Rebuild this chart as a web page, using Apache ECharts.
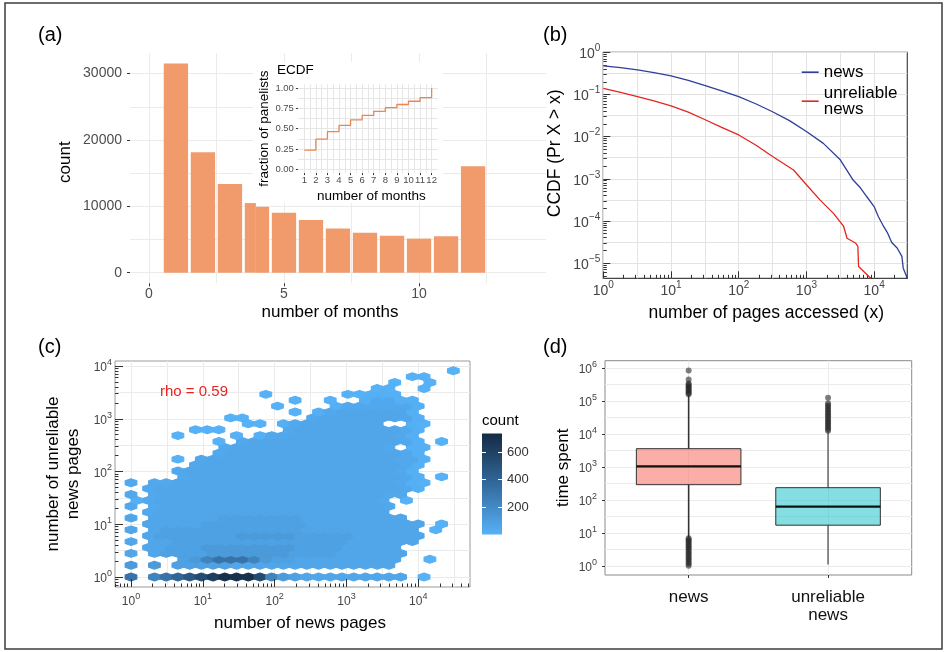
<!DOCTYPE html>
<html>
<head>
<meta charset="utf-8">
<script src="https://cdn.jsdelivr.net/npm/echarts@6/dist/echarts.min.js"></script>
<style>
html, body { margin: 0; padding: 0; background: #ffffff; }
#chart { width: 944px; height: 652px; }
</style>
</head>
<body>
<div id="chart"></div>
<script>
const FONT = '"Liberation Sans", Arial, Helvetica, sans-serif';

// ---------------- (a) histogram: number of months ----------------
const monthBinLo  = [0.55, 1.55, 2.55, 3.55, 3.96, 4.55, 5.55, 6.55, 7.55, 8.55, 9.55, 10.55, 11.55];
const monthBinHi  = [1.45, 2.45, 3.45, 3.96, 4.45, 5.45, 6.45, 7.45, 8.45, 9.45, 10.45, 11.45, 12.45];
const monthCounts = [31500, 18150, 13370, 10490, 9930, 9030, 7920, 6660, 6000, 5550, 5140, 5500, 16030];
const monthTicks  = [0, 5, 10];
const countTicks  = [0, 10000, 20000, 30000];

// ---------------- (a) inset ECDF ----------------
const ecdfMonths    = [1, 2, 3, 4, 5, 6, 7, 8, 9, 10, 11, 12];
const ecdfFractions = [0.235, 0.37, 0.465, 0.54, 0.61, 0.665, 0.715, 0.76, 0.80, 0.84, 0.885, 1.0];
const ecdfYTicks    = [0, 0.25, 0.5, 0.75, 1];

// ---------------- (b) CCDF of pages accessed ----------------
const newsPages  = [1, 1.8, 3.2, 5.6, 10, 18, 32, 56, 100, 178, 316, 562, 1000, 1778, 3162, 4898, 6310, 7762, 10000, 11482, 13804, 15849, 18197, 21878, 25704, 26915, 30903];
const newsCcdf   = [0.474, 0.4315, 0.3846, 0.3311, 0.2754, 0.2163, 0.1622, 0.1216, 0.0891, 0.0603, 0.0389, 0.0240, 0.01318, 0.00692, 0.00282, 0.000933, 0.000603, 0.000380, 0.000219, 0.000129, 7.41e-5, 5.13e-5, 3.09e-5, 2.29e-5, 1.45e-5, 7.59e-6, 4.37e-6];
const unrelPages = [1, 1.8, 3.2, 5.6, 10, 18, 32, 56, 100, 178, 316, 646, 1000, 1585, 2512, 3548, 3981, 5370, 5754, 5888, 8913];
const unrelCcdf  = [0.1403, 0.1122, 0.0891, 0.0700, 0.0537, 0.0380, 0.0251, 0.0166, 0.01096, 0.00631, 0.00339, 0.00162, 0.000724, 0.000316, 0.000151, 7.41e-5, 3.89e-5, 2.95e-5, 2.51e-5, 8.32e-6, 4.37e-6];
const ccdfSeriesNames = ['news', 'unreliable news'];

// ---------------- (c) hexbin: news pages vs unreliable pages ----------------
// hex lattice in log10 units (bin widths)
const hexStepX = 0.1632;
const hexStepY = 0.1117;
// one string per lattice row (bottom row first); '.' = empty bin, letters = count level
const hexLevelCodes  = 'abcdefghijklmn';
const hexLevelCounts = [3, 12, 45, 58, 85, 120, 165, 230, 320, 390, 460, 540, 620, 700];
const hexRows = [
  "i.hijklmnnnlhfeddddddddd.a...",
  "",
  "f.f.eeeeedddddddddddddd......",
  "....efhiiihfeeddddddddd..a...",
  "d.deeeefffffffeeeedddddd.....",
  ".ddeeeffffffffeeeeddddd......",
  "d.ddeeeeeeeeeeeeeeedddddd....",
  ".deeeeeeefffffeeeeedddddd....",
  "d.deeeeeeeeeeeedddddddddd.a..",
  ".dddddeeeeeeeeedddddddddd.a..",
  "d.ddddddeeeeeeeddddddddd.....",
  ".cdddddddddddddddddddd.......",
  "c.cdddddddddddddddddddc......",
  "bcdddddddddddddddddddc.a.....",
  "c.cdddddddddddddddddddcc.....",
  ".cdddddddddddddddddddddcb....",
  "c.ccdddddddddddddddddddcba...",
  "....cddddddddddddddddddcb.a..",
  "....cddddddddddddddddddcb....",
  ".....cdddddddddddddddddcb....",
  "....a.cddddddddddddddddccb...",
  ".......cdddddddddddddddcb....",
  "........cdddddddddddddc.bb...",
  ".......a.cdddddddddddddcb.a..",
  "....a....a.bccdddddddddcb....",
  ".....aaa.....cdddddddddcb....",
  "..........aa.bcddddddd..ba...",
  "........aa.....cddddddddb....",
  "..............a.bcddddddb....",
  "............a....bccccccb....",
  "..............a..a..bccbb....",
  "...........a......aabbb......",
  ".....................aa..a...",
  "......................a..a...",
  "........................aa...",
  "...........................a."
];
const countRange    = [1, 735];
const colorbarTicks = [200, 400, 600];
const rhoText       = 'rho = 0.59';

// ---------------- (d) boxplots of time spent ----------------
const boxCategories   = ['news', 'unreliable\nnews'];
const boxPositions    = [1, 2];
const boxLowWhisker   = [7.1, 1.1];
const boxQ1           = [288, 17];
const boxMedian       = [1030, 62];
const boxQ3           = [3560, 234];
const boxHighWhisker  = [148000, 12000];
const newsOutliers    = [1.0, 1.15, 1.3, 1.5, 1.7, 1.9, 2.2, 2.5, 2.8, 3.2, 3.6, 4.0, 4.5, 5.0, 5.6, 6.2, 6.8,
                         160000, 175000, 190000, 210000, 230000, 255000, 280000, 310000, 340000, 450000, 830000];
const unrelOutliers   = [12500, 14000, 16000, 18000, 20500, 23000, 26000, 30000, 34000, 39000, 44000, 50000,
                         57000, 65000, 74000, 85000, 125000];

// ---------------- helpers (styling / axis decoration) ----------------
const hexLowColor = '#56B1F7', hexMidColor = '#33699C', hexHighColor = '#132B43';
function hexToRgb(h) { return [parseInt(h.slice(1, 3), 16), parseInt(h.slice(3, 5), 16), parseInt(h.slice(5, 7), 16)]; }
function countColor(c) {
  let t = (c - countRange[0]) / (countRange[1] - countRange[0]);
  t = Math.max(0, Math.min(1, t));
  const a = hexToRgb(t < 0.5 ? hexLowColor : hexMidColor);
  const b = hexToRgb(t < 0.5 ? hexMidColor : hexHighColor);
  const u = t < 0.5 ? t / 0.5 : (t - 0.5) / 0.5;
  return 'rgb(' + a.map((v, k) => Math.round(v + (b[k] - v) * u)).join(',') + ')';
}
function seq(a, b, s) { const out = []; for (let v = a; v <= b + 1e-9; v += s) out.push(Math.round(v * 1000) / 1000); return out; }
function logMinor(lo, hi) {
  const out = [];
  for (let n = Math.floor(lo) - 1; n <= Math.ceil(hi); n++) {
    for (let k = 2; k <= 9; k++) { const v = n + Math.log10(k); if (v >= lo && v <= hi) out.push(v); }
  }
  return out;
}
function supFmt(v) { const e = Math.round(v); return '{b|10}{s|' + (e < 0 ? '\u2212' + (-e) : e) + '}'; }
function supRich(big, small, color) {
  return {
    b: { fontSize: big, color: color, fontFamily: FONT, padding: [Math.round(big * 0.3), 0, 0, 0] },
    s: { fontSize: small, color: color, fontFamily: FONT, verticalAlign: 'top' }
  };
}
function hiddenAxis(grid, type, min, max) {
  const a = { gridIndex: grid, type: type, min: min, max: max, show: false };
  if (type === 'log') a.logBase = 10;
  return a;
}
function lineAxis(grid, position, min, max, values, color, z) {
  return { gridIndex: grid, type: 'value', position: position, min: min, max: max, z: z || 0,
    axisLine: { show: false, onZero: false },
    axisTick: { show: false, customValues: values },
    axisLabel: { show: false },
    splitLine: { show: true, lineStyle: { color: color, width: 1 } } };
}
function tickAxis(grid, position, min, max, values, length, inside, color, z) {
  return { gridIndex: grid, type: 'value', position: position, min: min, max: max, z: z || 0,
    axisLine: { show: false, onZero: false },
    axisTick: { show: true, inside: inside, length: length, customValues: values, lineStyle: { color: color, width: 1 } },
    axisLabel: { show: false },
    splitLine: { show: false } };
}
function withLabels(axis, values, label) {
  axis.axisLabel = Object.assign({ show: true, customValues: values, fontFamily: FONT }, label);
  return axis;
}
function withName(axis, name, gap, style, rotate) {
  axis.name = name; axis.nameLocation = 'middle'; axis.nameGap = gap;
  if (rotate != null) axis.nameRotate = rotate;
  axis.nameTextStyle = Object.assign({ fontFamily: FONT, color: '#000' }, style);
  return axis;
}
function titleAt(text, left, top, size, color) {
  return { text: text, left: left, top: top, padding: 0,
    textStyle: { fontSize: size, fontWeight: 'normal', color: color || '#000', fontFamily: FONT } };
}

// ---------------- derived series data ----------------
const histData = monthBinLo.map((lo, i) => [lo, monthBinHi[i], monthCounts[i]]);
const ecdfData = ecdfMonths.map((m, i) => [m, ecdfFractions[i]]);
const newsData = newsPages.map((x, i) => [x, newsCcdf[i]]);
const unrelData = unrelPages.map((x, i) => [x, unrelCcdf[i]]);
const hexData = [];
hexRows.forEach((row, j) => {
  for (let i = 0; i < row.length; i++) {
    const lvl = hexLevelCodes.indexOf(row[i]);
    if (lvl < 0) continue;
    const lx = (i + (j % 2 ? 0.5 : 0)) * hexStepX;
    const ly = j * hexStepY;
    hexData.push([Math.pow(10, lx), Math.pow(10, ly), hexLevelCounts[lvl]]);
  }
});
const boxData = boxPositions.map((p, i) => [p, boxLowWhisker[i], boxQ1[i], boxMedian[i], boxQ3[i], boxHighWhisker[i]]);
const outlierData = newsOutliers.map(v => [boxPositions[0], v]).concat(unrelOutliers.map(v => [boxPositions[1], v]));

// ---------------- axis ranges ----------------
const aX = [-0.7, 14.7], aY = [-1600, 33100];
const iX = [0.45, 12.55], iY = [-0.05, 1.05];
const bX = [0, 4.49], bY = [-5.36, 0];
const cX = [-0.223, 4.72], cY = [-0.19, 4.095];
const dX = [0.4, 2.6], dY = [-0.28, 6.22];

const xAxes = [];
const yAxes = [];
// grid 0 : panel (a)
xAxes.push(withName(withLabels(tickAxis(0, 'bottom', aX[0], aX[1], monthTicks, 3, false, '#333'), monthTicks,
  { margin: 4, fontSize: 14, color: '#4d4d4d', formatter: v => String(v) }), 'number of months', 21, { fontSize: 17, padding: [0, 16, 0, 0] }));  // 0
xAxes.push(lineAxis(0, 'bottom', aX[0], aX[1], seq(0, 12.5, 2.5), '#ebebeb'));   // 1
yAxes.push(withName(withLabels(tickAxis(0, 'left', aY[0], aY[1], countTicks, 3, false, '#333'), countTicks,
  { margin: 8, fontSize: 14, color: '#4d4d4d', formatter: v => String(v) }), 'count', 56, { fontSize: 17, padding: [0, 0, 0, 12] }, 90));  // 0
yAxes.push(lineAxis(0, 'left', aY[0], aY[1], seq(0, 30000, 5000), '#ebebeb'));   // 1
// grid 1 : inset ECDF
xAxes.push(withName(withLabels(tickAxis(1, 'bottom', iX[0], iX[1], ecdfMonths, 2, false, '#333', 2), ecdfMonths,
  { margin: 2, fontSize: 9.5, color: '#4d4d4d' }), 'number of months', 16, { fontSize: 13.5, padding: [0, 0, 0, 7] }));  // 2
xAxes.push(lineAxis(1, 'bottom', iX[0], iX[1], seq(1, 12, 0.5), '#e6e6e6', 2));   // 3
yAxes.push(withName(withLabels(tickAxis(1, 'left', iY[0], iY[1], ecdfYTicks, 2, false, '#333', 2), ecdfYTicks,
  { margin: 4, fontSize: 9.5, color: '#4d4d4d', formatter: v => v.toFixed(2) }), 'fraction of panelists', 26, { fontSize: 13.5 }, 90));  // 2
yAxes.push(lineAxis(1, 'left', iY[0], iY[1], seq(0, 1, 0.125), '#e6e6e6', 2));   // 3
// grid 2 : panel (b)
xAxes.push(hiddenAxis(2, 'log', Math.pow(10, bX[0]), Math.pow(10, bX[1])));   // 4
xAxes.push(withName(withLabels(tickAxis(2, 'bottom', bX[0], bX[1], [0, 1, 2, 3, 4], 7, true, '#333', 3), [0, 1, 2, 3, 4],
  { margin: 2, formatter: supFmt, rich: supRich(14, 10, '#444') }), 'number of pages accessed (x)', 26, { fontSize: 17.5, padding: [0, 0, 0, 22] }));  // 5
xAxes.push(lineAxis(2, 'bottom', bX[0], bX[1], seq(0, 4, 0.5), '#e3e3e3'));   // 6
xAxes.push(tickAxis(2, 'bottom', bX[0], bX[1], logMinor(bX[0], bX[1]), 3.5, true, '#333', 3));   // 7
yAxes.push(hiddenAxis(2, 'log', Math.pow(10, bY[0]), Math.pow(10, bY[1])));   // 4
yAxes.push(withName(withLabels(tickAxis(2, 'left', bY[0], bY[1], [-5, -4, -3, -2, -1, 0], 7, true, '#333', 3), [-5, -4, -3, -2, -1, 0],
  { margin: 3, formatter: supFmt, rich: supRich(14, 10, '#444') }), 'CCDF (Pr X > x)', 39, { fontSize: 17.5, padding: [0, 0, 0, 24] }, 90));  // 5
yAxes.push(lineAxis(2, 'left', bY[0], bY[1], seq(-5, 0, 0.5), '#e3e3e3'));   // 6
yAxes.push(tickAxis(2, 'left', bY[0], bY[1], logMinor(bY[0], bY[1]), 3.5, true, '#333', 3));   // 7
// grid 3 : panel (c)
xAxes.push(hiddenAxis(3, 'log', Math.pow(10, cX[0]), Math.pow(10, cX[1])));   // 8
xAxes.push(withName(withLabels(tickAxis(3, 'bottom', cX[0], cX[1], [0, 1, 2, 3, 4], 8, true, '#333', 5), [0, 1, 2, 3, 4],
  { margin: 5, formatter: supFmt, rich: supRich(12, 9, '#444') }), 'number of news pages', 27.5, { fontSize: 17, padding: [0, 0, 0, 15] }));  // 9
xAxes.push(lineAxis(3, 'bottom', cX[0], cX[1], seq(0, 4.5, 0.5), '#ebebeb'));   // 10
xAxes.push(tickAxis(3, 'bottom', cX[0], cX[1], logMinor(cX[0], cX[1]), 3.5, true, '#333', 5));   // 11
yAxes.push(hiddenAxis(3, 'log', Math.pow(10, cY[0]), Math.pow(10, cY[1])));   // 8
yAxes.push(withName(withLabels(tickAxis(3, 'left', cY[0], cY[1], [0, 1, 2, 3, 4], 8, true, '#333', 5), [0, 1, 2, 3, 4],
  { margin: 3, formatter: supFmt, rich: supRich(12, 9, '#444') }), 'number of unreliable\nnews pages', 32, { fontSize: 17, lineHeight: 20 }, 90));  // 9
yAxes.push(lineAxis(3, 'left', cY[0], cY[1], seq(0, 4, 0.5), '#ebebeb'));   // 10
yAxes.push(tickAxis(3, 'left', cY[0], cY[1], logMinor(cY[0], cY[1]), 3.5, true, '#333', 5));   // 11
// grid 4 : colorbar
xAxes.push(hiddenAxis(4, 'value', 0, 1));   // 12
yAxes.push(tickAxis(4, 'left', countRange[0], countRange[1], colorbarTicks, 4, true, '#ffffff', 10));   // 12
yAxes.push(withLabels(tickAxis(4, 'right', countRange[0], countRange[1], colorbarTicks, 4, true, '#ffffff', 10), colorbarTicks,
  { margin: 5, fontSize: 13, color: '#333' }));   // 13
// grid 5 : panel (d)
const dMain = withLabels(tickAxis(5, 'bottom', dX[0], dX[1], boxPositions, 3, false, '#333'), boxPositions,
  { margin: 13, fontSize: 17, lineHeight: 18, color: '#111', formatter: v => boxCategories[boxPositions.indexOf(Math.round(v))] || '' });
dMain.splitLine = { show: true, lineStyle: { color: '#ebebeb', width: 1 } };
xAxes.push(dMain);   // 13
yAxes.push(hiddenAxis(5, 'log', Math.pow(10, dY[0]), Math.pow(10, dY[1])));   // 14
yAxes.push(withName(withLabels(tickAxis(5, 'left', dY[0], dY[1], [0, 1, 2, 3, 4, 5, 6], 3, false, '#333'), [0, 1, 2, 3, 4, 5, 6],
  { margin: 8, formatter: supFmt, rich: supRich(12, 9, '#444') }), 'time spent', 33, { fontSize: 17 }, 90));   // 15
yAxes.push(lineAxis(5, 'left', dY[0], dY[1], seq(0, 6, 0.5), '#ebebeb'));   // 16

const boxFills = ['rgba(248,118,109,0.6)', 'rgba(0,186,192,0.48)'];
const whiskerColors = ['#333333', '#6e6e6e'];
const boxHalfWidth = 0.375;

const option = {
  animation: false,
  backgroundColor: '#ffffff',
  textStyle: { fontFamily: FONT },
  title: [
    titleAt('(a)', 38, 25, 20),
    titleAt('(b)', 543, 25, 20),
    titleAt('(c)', 38, 337, 20),
    titleAt('(d)', 543, 337, 20),
    titleAt('ECDF', 277, 63, 13.5),
    titleAt(rhoText, 160, 384, 15, '#e8231f'),
    titleAt('count', 482, 413, 15)
  ],
  legend: {
    data: ccdfSeriesNames, orient: 'vertical', left: 801.7, top: 63.7, padding: 0,
    itemWidth: 17, itemHeight: 1.6, icon: 'rect', itemGap: 4, selectedMode: false,
    textStyle: { fontSize: 17, lineHeight: 16, color: '#000', fontFamily: FONT },
    formatter: n => n === 'unreliable news' ? 'unreliable\nnews' : n
  },
  graphic: { elements: [
    { type: 'rect', z: 1, shape: { x: 253, y: 62, width: 190, height: 141 }, style: { fill: '#ffffff' } },
    { type: 'rect', z: 100, shape: { x: 5, y: 3, width: 937, height: 646 }, style: { fill: 'none', stroke: '#3c3c3c', lineWidth: 1.5 } }
  ] },
  grid: [
    { left: 130, top: 53, width: 416, height: 230.3 },
    { left: 297.9, top: 84.3, width: 140.1, height: 88.8 },
    { left: 603.3, top: 52.3, width: 304, height: 226, show: true, borderColor: '#444', borderWidth: 1.2 },
    { left: 115, top: 361, width: 355, height: 226, show: true, borderColor: '#9a9a9a', borderWidth: 1 },
    { left: 482, top: 433.4, width: 20, height: 101 },
    { left: 605, top: 360.7, width: 306.7, height: 214.3, show: true, borderColor: '#8a8a8a', borderWidth: 1 }
  ],
  xAxis: xAxes,
  yAxis: yAxes,
  series: [
    { type: 'custom', name: 'months histogram', xAxisIndex: 0, yAxisIndex: 0, z: 2,
      data: histData, encode: { x: [0, 1], y: 2 },
      renderItem: (params, api) => {
        const p0 = api.coord([api.value(0), api.value(2)]);
        const p1 = api.coord([api.value(1), 0]);
        return { type: 'rect', shape: { x: p0[0], y: p0[1], width: p1[0] - p0[0], height: p1[1] - p0[1] },
          style: { fill: '#F19B6C' } };
      } },
    { type: 'line', name: 'ecdf', xAxisIndex: 2, yAxisIndex: 2, z: 3, step: 'end', data: ecdfData,
      showSymbol: false, symbol: 'none', lineStyle: { color: '#EC8550', width: 1.3 }, itemStyle: { color: '#EC8550' } },
    { type: 'line', name: ccdfSeriesNames[0], xAxisIndex: 4, yAxisIndex: 4, z: 3, data: newsData, clip: true,
      showSymbol: false, symbol: 'none', lineStyle: { color: '#2F3F98', width: 1.3 }, itemStyle: { color: '#2F3F98' } },
    { type: 'line', name: ccdfSeriesNames[1], xAxisIndex: 4, yAxisIndex: 4, z: 3, data: unrelData, clip: true,
      showSymbol: false, symbol: 'none', lineStyle: { color: '#E3261F', width: 1.3 }, itemStyle: { color: '#E3261F' } },
    { type: 'custom', name: 'hexbin', xAxisIndex: 8, yAxisIndex: 8, z: 2, clip: true,
      data: hexData, encode: { x: 0, y: 1 },
      renderItem: (params, api) => {
        const lx = Math.log10(api.value(0)), ly = Math.log10(api.value(1));
        const hw = hexStepX / 2, dy = hexStepY / 3;
        const offs = [[hw, dy], [0, 2 * dy], [-hw, dy], [-hw, -dy], [0, -2 * dy], [hw, -dy]];
        const pts = offs.map(o => api.coord([Math.pow(10, lx + o[0]), Math.pow(10, ly + o[1])]));
        const col = countColor(api.value(2));
        return { type: 'polygon', shape: { points: pts }, style: { fill: col, stroke: col, lineWidth: 1.1, lineJoin: 'round' } };
      } },
    { type: 'custom', name: 'colorbar', xAxisIndex: 12, yAxisIndex: 12, z: 2,
      data: [[0, countRange[0], 1, countRange[1]]], encode: { x: [0, 2], y: [1, 3] },
      renderItem: (params, api) => {
        const a = api.coord([api.value(0), api.value(3)]);
        const b = api.coord([api.value(2), api.value(1)]);
        return { type: 'rect', shape: { x: a[0], y: a[1], width: b[0] - a[0], height: b[1] - a[1] },
          style: { fill: { type: 'linear', x: 0, y: 0, x2: 0, y2: 1, colorStops: [
            { offset: 0, color: hexHighColor }, { offset: 0.5, color: hexMidColor }, { offset: 1, color: hexLowColor } ] } } };
      } },
    { type: 'custom', name: 'boxes', xAxisIndex: 13, yAxisIndex: 14, z: 3,
      data: boxData, encode: { x: 0, y: [1, 2, 3, 4, 5] },
      renderItem: (params, api) => {
        const x = api.value(0);
        const lo = api.coord([x, api.value(1)]), q1 = api.coord([x, api.value(2)]);
        const md = api.coord([x, api.value(3)]), q3 = api.coord([x, api.value(4)]);
        const hi = api.coord([x, api.value(5)]);
        const left = api.coord([x - boxHalfWidth, api.value(3)])[0];
        const right = api.coord([x + boxHalfWidth, api.value(3)])[0];
        const wc = whiskerColors[params.dataIndex];
        return { type: 'group', children: [
          { type: 'line', shape: { x1: lo[0], y1: lo[1], x2: q1[0], y2: q1[1] }, style: { stroke: wc, lineWidth: 1.6 } },
          { type: 'line', shape: { x1: q3[0], y1: q3[1], x2: hi[0], y2: hi[1] }, style: { stroke: wc, lineWidth: 1.6 } },
          { type: 'rect', shape: { x: left, y: q3[1], width: right - left, height: q1[1] - q3[1] },
            style: { fill: boxFills[params.dataIndex], stroke: '#333', lineWidth: 1 } },
          { type: 'line', shape: { x1: left, y1: md[1], x2: right, y2: md[1] }, style: { stroke: '#111', lineWidth: 2.2 } }
        ] };
      } },
    { type: 'scatter', name: 'outliers', xAxisIndex: 13, yAxisIndex: 14, z: 4, data: outlierData,
      symbol: 'circle', symbolSize: 6, itemStyle: { color: 'rgba(40,40,40,0.75)' } }
  ]
};

const chart = echarts.init(document.getElementById('chart'), null, { renderer: 'canvas' });
chart.setOption(option);
</script>
</body>
</html>
